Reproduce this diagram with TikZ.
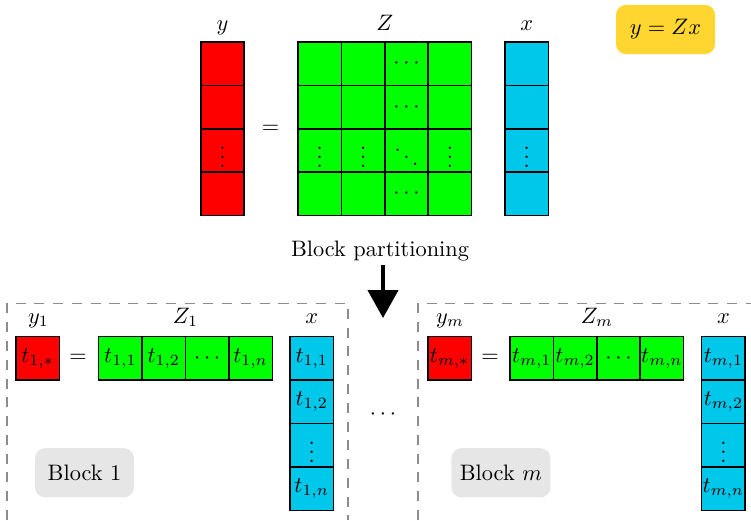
\documentclass[tikz,border=0pt]{standalone}
\usetikzlibrary{arrows.meta}
\definecolor{cellred}{RGB}{255,0,0}
\definecolor{cellgreen}{RGB}{0,255,0}
\definecolor{cellblue}{RGB}{0,200,235}
\definecolor{goldbox}{RGB}{255,214,48}
\definecolor{lightbox}{RGB}{230,230,230}
\definecolor{dashgray}{RGB}{140,140,140}
\begin{document}
\begin{tikzpicture}[x=0.4474pt,y=-0.4474pt,
  cell/.style={draw=black, line width=0.7pt, minimum width=19.42pt, minimum height=19.42pt, inner sep=0pt},
  ycell/.style={cell, fill=cellred},
  zcell/.style={cell, fill=cellgreen},
  xcell/.style={cell, fill=cellblue},
  lbl/.style={anchor=base, inner sep=0pt},
  blockbox/.style={fill=lightbox, rounded corners=4.5pt, minimum width=44.3pt, minimum height=22pt, inner sep=0pt},
  eqbox/.style={fill=goldbox, rounded corners=4.5pt, minimum width=44.3pt, minimum height=22pt, inner sep=0pt},
  dashbox/.style={draw=dashgray, line width=0.5pt, dash pattern=on 4.5pt off 3.9pt},
  bigarrow/.style={line width=1.6pt, -{Triangle[width=13.5pt,length=12.5pt]}}
]
\useasboundingbox (0,0) rectangle (751,520);

% ---------- top equation ----------
\foreach \i/\yy/\ya/\za/\zb/\zc/\zd/\xa in {
   1/63.7/{}/{}/{}/{$\cdots$}/{}/{},
   2/107.1/{}/{}/{}/{$\cdots$}/{}/{},
   3/150.5/{$\vdots$}/{$\vdots$}/{$\vdots$}/{$\ddots$}/{$\vdots$}/{$\vdots$},
   4/193.9/{}/{}/{}/{$\cdots$}/{}/{}} {
  \node[ycell] (y\i) at (222.5,\yy) {\ya};
  \node[zcell] (z\i1) at (319.7,\yy) {\za};
  \node[zcell] (z\i2) at (363.1,\yy) {\zb};
  \node[zcell] (z\i3) at (406.5,\yy) {\zc};
  \node[zcell] (z\i4) at (449.9,\yy) {\zd};
  \node[xcell] (x\i) at (526.7,\yy) {\xa};
}
\node[lbl] (ylbl) at (222.5,30) {$y$};
\node[lbl] (zlbl) at (384.8,30) {$Z$};
\node[lbl] (xlbl) at (526.7,30) {$x$};
\node (eqtop) at (270.5,129) {$=$};
\node[eqbox] (formula) at (665.5,29.5) {$y=Zx$};

% ---------- partitioning arrow ----------
\node[lbl] (bp) at (380,256.5) {Block partitioning};
\coordinate (arrS) at (383,265);
\coordinate (arrE) at (383,318);
\draw[bigarrow] (arrS) -- (arrE);

% ---------- dashed frames ----------
\coordinate (fa1) at (7,520);
\coordinate (fa2) at (7,303.3);
\coordinate (fa3) at (348,303.3);
\coordinate (fa4) at (348,520);
\draw[dashbox] (fa1) -- (fa2) -- (fa3) -- (fa4);
\coordinate (fb1) at (418,520);
\coordinate (fb2) at (418,303.3);
\coordinate (fb3) at (751,303.3);
\draw[dashbox] (fb1) -- (fb2) -- (fb3);

% ---------- block 1 ----------
\node[ycell] (ya) at (37.7,358.4) {$t_{1,*}$};
\node[lbl] (yalbl) at (38.5,323.5) {$y_1$};
\node (eqa) at (78,358.4) {$=$};
\node[zcell] (za1) at (120.4,358.4) {$t_{1,1}$};
\node[zcell] (za2) at (163.8,358.4) {$t_{1,2}$};
\node[zcell] (za3) at (207.2,358.4) {$\cdots$};
\node[zcell] (za4) at (250.6,358.4) {$t_{1,n}$};
\node[lbl] (zalbl) at (185.5,323.5) {$Z_1$};
\node[xcell] (xa1) at (311.7,358.4) {$t_{1,1}$};
\node[xcell] (xa2) at (311.7,401.8) {$t_{1,2}$};
\node[xcell] (xa3) at (311.7,445.2) {$\vdots$};
\node[xcell] (xa4) at (311.7,488.6) {$t_{1,n}$};
\node[lbl] (xalbl) at (311.7,323.5) {$x$};
\node[blockbox] (blka) at (84.5,472.8) {Block 1};

\node (middots) at (383,415) {$\cdots$};

% ---------- block m ----------
\node[ycell] (yb) at (449.7,358.4) {$t_{m,*}$};
\node[lbl] (yblbl) at (450,323.5) {$y_m$};
\node (eqb) at (490,358.4) {$=$};
\node[zcell] (zb1) at (531.7,358.4) {$t_{m,1}$};
\node[zcell] (zb2) at (575.1,358.4) {$t_{m,2}$};
\node[zcell] (zb3) at (618.5,358.4) {$\cdots$};
\node[zcell] (zb4) at (661.9,358.4) {$t_{m,n}$};
\node[lbl] (zblbl) at (597,323.5) {$Z_m$};
\node[xcell] (xb1) at (723.4,358.4) {$t_{m,1}$};
\node[xcell] (xb2) at (723.4,401.8) {$t_{m,2}$};
\node[xcell] (xb3) at (723.4,445.2) {$\vdots$};
\node[xcell] (xb4) at (723.4,488.6) {$t_{m,n}$};
\node[lbl] (xblbl) at (723.4,323.5) {$x$};
\node[blockbox] (blkb) at (500.9,472.8) {Block $m$};
\end{tikzpicture}
\end{document}
